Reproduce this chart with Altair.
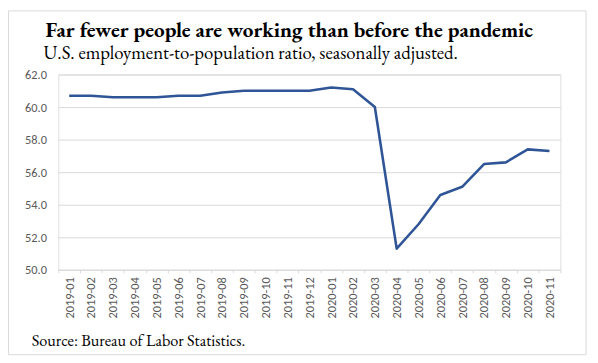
import altair as alt
import pandas as pd

months = ["2019-01", "2019-02", "2019-03", "2019-04", "2019-05", "2019-06",
          "2019-07", "2019-08", "2019-09", "2019-10", "2019-11", "2019-12",
          "2020-01", "2020-02", "2020-03", "2020-04", "2020-05", "2020-06",
          "2020-07", "2020-08", "2020-09", "2020-10", "2020-11"]
ratio = [60.7, 60.7, 60.6, 60.6, 60.6, 60.7, 60.7, 60.9, 61.0, 61.0, 61.0, 61.0,
         61.2, 61.1, 60.0, 51.3, 52.8, 54.6, 55.1, 56.5, 56.6, 57.4, 57.3]
y_ticks = [50, 52, 54, 56, 58, 60, 62]

title_text = "Far fewer people are working than before the pandemic"
subtitle_text = "U.S. employment-to-population ratio, seasonally adjusted."
source_text = "Source: Bureau of Labor Statistics."

df = pd.DataFrame({"month": months, "ratio": ratio})

SERIF = "Garamond, 'EB Garamond', 'Liberation Serif', 'Times New Roman', serif"
SANS = "Calibri, Carlito, 'Liberation Sans', Arial, sans-serif"

base = alt.Chart(df)
first = alt.datum.month == months[0]

line = base.mark_line(color="#2F5597", strokeWidth=2.6, strokeJoin="round").encode(
    x=alt.X("month:O", sort=months,
            scale=alt.Scale(type="band", paddingInner=0, paddingOuter=0),
            axis=alt.Axis(title=None, labelAngle=-90, labelFont=SANS, labelFontSize=12.5,
                          labelColor="#595959", labelPadding=4, tickBand="extent",
                          tickColor="#D9D9D9", tickSize=3, domainColor="#D9D9D9",
                          grid=False, labelBaseline="middle", labelAlign="right")),
    y=alt.Y("ratio:Q",
            scale=alt.Scale(domain=[50, 62], nice=False, zero=False),
            axis=alt.Axis(title=None, values=y_ticks, format=".1f", labelFont=SANS,
                          labelFontSize=12.5, labelColor="#595959", labelPadding=12,
                          domain=False, ticks=False, grid=True, gridColor="#D9D9D9",
                          gridWidth=1)),
)

title = base.mark_text(align="left", baseline="alphabetic", font=SERIF,
                       fontSize=21.5, fontWeight="bold", color="#000000").encode(
    x=alt.value(-13), y=alt.value(-38), text=alt.value(title_text)
).transform_filter(first)

subtitle = base.mark_text(align="left", baseline="alphabetic", font=SERIF,
                          fontSize=19, color="#000000").encode(
    x=alt.value(-15), y=alt.value(-16), text=alt.value(subtitle_text)
).transform_filter(first)

source = base.mark_text(align="left", baseline="alphabetic", font=SERIF,
                        fontSize=16.5, color="#000000").encode(
    x=alt.value(-27), y=alt.value(275), text=alt.value(source_text)
).transform_filter(first)

frame = base.mark_rect(fill=None, stroke="#D9D9D9", strokeWidth=1).encode(
    x=alt.value(-50.5), x2=alt.value(535), y=alt.value(-64.5), y2=alt.value(284)
).transform_filter(first)

chart = alt.layer(frame, line, title, subtitle, source).properties(
    width=509,
    height=198,
    padding={"left": 51, "top": 65, "right": 30, "bottom": 90},
    autosize=alt.AutoSizeParams(type="none"),
).configure_view(stroke=None).configure(background="white")

chart.save("out.html", embed_options={"renderer": "svg", "actions": False})
